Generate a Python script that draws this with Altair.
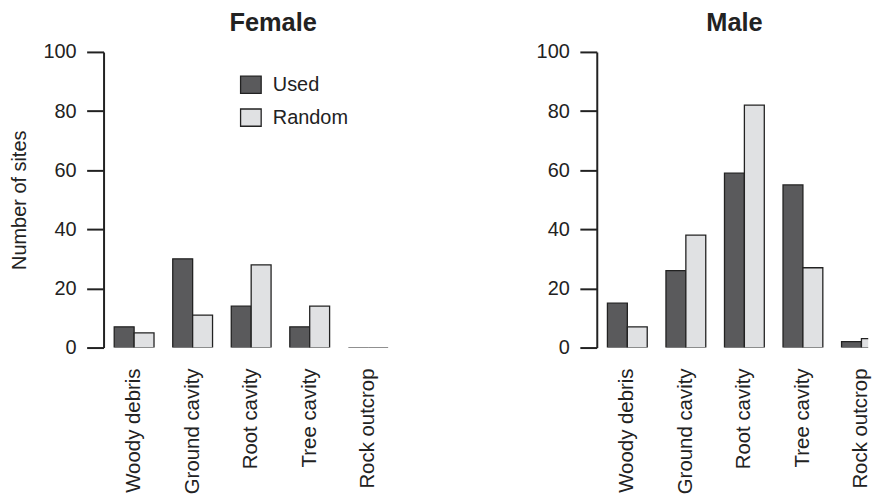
import altair as alt
import pandas as pd

categories = ["Woody debris", "Ground cavity", "Root cavity", "Tree cavity", "Rock outcrop"]
types = ["Used", "Random"]
female_used = [7, 30, 14, 7, 0]
female_random = [5, 11, 28, 14, 0]
male_used = [15, 26, 59, 55, 2]
male_random = [7, 38, 82, 27, 3]
y_ticks = [0, 20, 40, 60, 80, 100]

FONT = "Liberation Sans"
INK = "#222222"
FILLS = ["#5a5a5c", "#e0e1e3"]
PLOT_H = 297


def frame(used, random):
    rows = []
    for c, u, r in zip(categories, used, random):
        rows.append({"site": c, "type": "Used", "value": u})
        rows.append({"site": c, "type": "Random", "value": r})
    return pd.DataFrame(rows)


def panel(df, title, title_dx, ytitle, legend, width, rng):
    if rng is None:
        xscale = alt.Scale(domain=categories, paddingInner=0.32, paddingOuter=0.182)
    else:
        xscale = alt.Scale(domain=categories, paddingInner=0.32, paddingOuter=0.182, range=rng)
    x = alt.X("site:N", sort=categories, scale=xscale, axis=None)
    y_axis = dict(
        values=y_ticks, tickSize=17, tickWidth=2, domainWidth=2, domainColor=INK,
        tickColor=INK, labelPadding=10.6, labelFontSize=20, labelColor=INK,
        labelFont=FONT, grid=False,
    )
    if ytitle:
        y_axis.update(title=ytitle, titleFontSize=20, titleFontWeight="normal",
                      titleColor=INK, titleFont=FONT, titlePadding=13)
    else:
        y_axis.update(title=None)
    y = alt.Y("value:Q", scale=alt.Scale(domain=[0, 100], nice=False), axis=alt.Axis(**y_axis))
    if legend:
        leg = alt.Legend(
            title=None, orient="none", legendX=137, legendY=22,
            symbolType="M-1,-0.836H1V0.836H-1Z", symbolSize=428,
            symbolStrokeColor=INK, symbolStrokeWidth=1.3, symbolOpacity=1,
            labelFontSize=20, labelFont=FONT, labelColor=INK,
            labelOffset=11, rowPadding=9,
        )
    else:
        leg = None
    color = alt.Color(
        "type:N", sort=types,
        scale=alt.Scale(domain=types, range=FILLS),
        legend=leg,
    )
    bars = (
        alt.Chart(df)
        .mark_bar(stroke=INK, strokeWidth=1.3, clip=True, opacity=1)
        .encode(
            x=x,
            xOffset=alt.XOffset("type:N", sort=types,
                                scale=alt.Scale(domain=types, paddingInner=0, paddingOuter=0)),
            y=y,
            color=color,
        )
    )
    labels = (
        alt.Chart(pd.DataFrame({"site": categories}))
        .mark_text(angle=270, align="right", baseline="middle", fontSize=20.5, font=FONT, color=INK)
        .encode(x=alt.X("site:N", sort=categories, scale=xscale, axis=None),
                y=alt.value(PLOT_H + 21), text="site:N")
    )
    heading = (
        alt.Chart(pd.DataFrame({"t": [title]}))
        .mark_text(align="left", baseline="alphabetic", fontSize=25.5, fontWeight="bold",
                   font=FONT, color=INK)
        .encode(x=alt.value(title_dx), y=alt.value(-20.7), text="t:N")
    )
    return alt.layer(bars, labels, heading).properties(width=width, height=PLOT_H)


female = panel(frame(female_used, female_random), "Female", 126.4, "Number of sites", True, 296.6, None)
male = panel(frame(male_used, male_random), "Male", 110, None, False, 272.7, [0, 296.6])

chart = (
    alt.hconcat(female, male, spacing=137.5)
    .resolve_scale(color="independent")
    .properties(padding={"left": 2, "top": 2, "right": 0, "bottom": 0})
    .configure(font=FONT)
    .configure_view(strokeWidth=0, stroke="transparent")
)

chart.save("out.html", embed_options={"renderer": "svg", "actions": False})
